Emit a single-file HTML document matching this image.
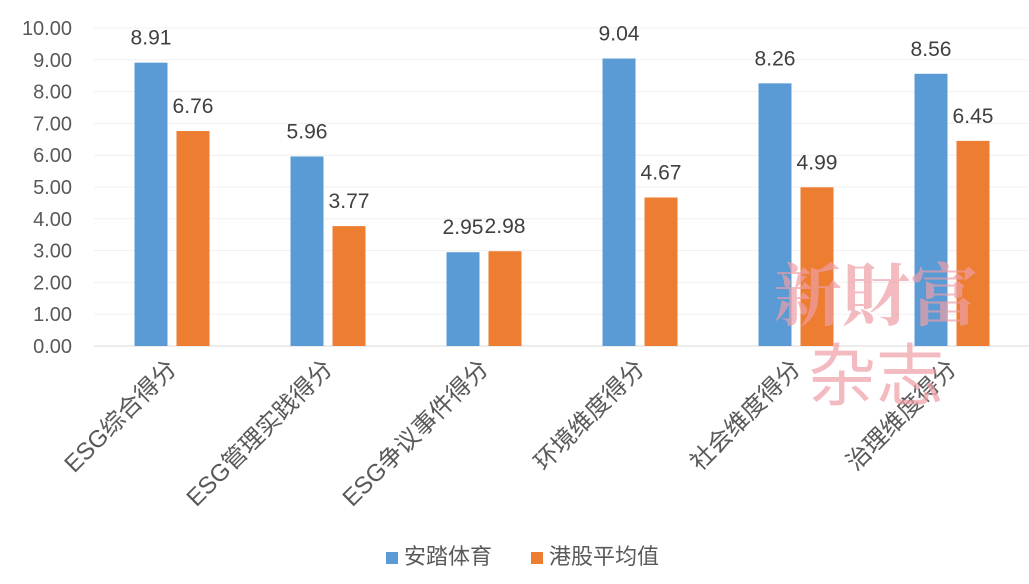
<!DOCTYPE html>
<html><head><meta charset="utf-8"><style>
html,body{margin:0;padding:0;background:#fff;}
svg text{font-family:"Liberation Sans","Noto Sans CJK SC",sans-serif;}
</style></head><body>
<svg id="chart" width="1029" height="579" xmlns="http://www.w3.org/2000/svg">
<g id="plot"></g>
<g opacity="0.7">
<text x="876" y="320" text-anchor="middle" font-size="68" font-weight="bold" fill="#ee9ea6" style="font-family:'Noto Serif CJK SC',serif">新財富</text>
<text x="876" y="400" text-anchor="middle" font-size="68" fill="#ee9ea6" style="font-family:'Noto Sans CJK SC',sans-serif">杂志</text>
</g>
<g>
<rect x="386" y="552" width="12" height="12" fill="#5B9BD5"/>
<text x="404" y="564" font-size="22" fill="#595959">安踏体育</text>
<rect x="531" y="552" width="12" height="12" fill="#ED7D31"/>
<text x="549" y="564" font-size="22" fill="#595959">港股平均值</text>
</g>
</svg>
<script>
const categories=["ESG综合得分","ESG管理实践得分","ESG争议事件得分","环境维度得分","社会维度得分","治理维度得分"];
const antaValues=[8.91,5.96,2.95,9.04,8.26,8.56];
const hkAvgValues=[6.76,3.77,2.98,4.67,4.99,6.45];
const yTicks=[0,1,2,3,4,5,6,7,8,9,10];
const NS="http://www.w3.org/2000/svg";
const g=document.getElementById('plot');
const x0=94,x1=1030,y0=346,yTop=28,yMax=10;
const y=v=>y0-(v/yMax)*(y0-yTop);
const band=(x1-x0)/categories.length;
const cx=i=>x0+band*(i+0.5);
function mk(t,a){const e=document.createElementNS(NS,t);for(const k in a)e.setAttribute(k,a[k]);g.appendChild(e);return e;}
yTicks.forEach(v=>{
 if(v>0){const gl=mk('line',{x1:x0,x2:x1,y1:y(v),y2:y(v),stroke:'#f0f0f0','stroke-width':1});
 
 }
 const t=mk('text',{x:72,y:y(v)+7,'text-anchor':'end','font-size':20,fill:'#595959'});
 
 
 t.textContent=v.toFixed(2);});
const ax=mk('line',{x1:x0,x2:x1,y1:y0,y2:y0,stroke:'#d9d9d9','stroke-width':1});


const bw=33,gap=9;
categories.forEach((c,i)=>{
 [[antaValues[i],'#5B9BD5',-gap/2-bw,'bar-anta'],[hkAvgValues[i],'#ED7D31',gap/2,'bar-hk-avg']].forEach(([v,col,off,nm])=>{
  const bx=cx(i)+off;
  const r=mk('rect',{x:bx,y:y(v),width:bw,height:y0-y(v),fill:col});
  
  
  const l=mk('text',{x:bx+bw/2,y:y(v)-18,'text-anchor':'middle','font-size':21,fill:'#404040',textLength:41,lengthAdjust:'spacingAndGlyphs'});
  
  
  l.textContent=v.toFixed(2);
 });
 const tx=cx(i)+6,ty=y0+24;
 const t=mk('text',{x:tx,y:ty,'text-anchor':'end','font-size':24,fill:'#595959',transform:`rotate(-45 ${tx} ${ty})`});
 
 
 t.textContent=c;
});
</script>
</body></html>
